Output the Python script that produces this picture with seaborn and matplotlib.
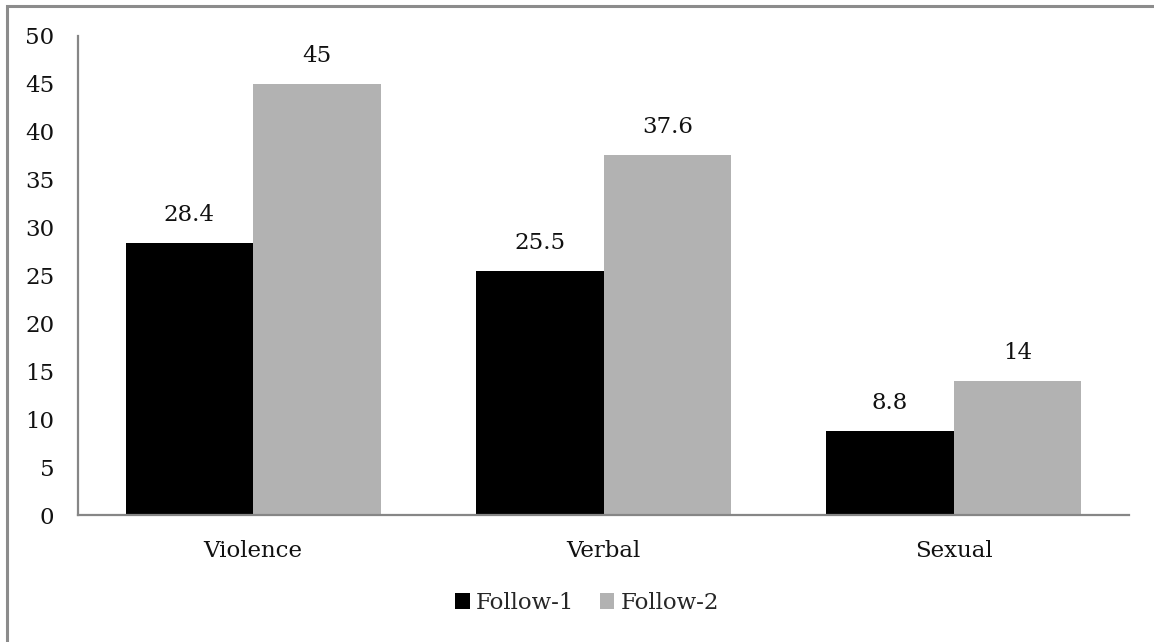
import matplotlib
matplotlib.use("Agg")
import matplotlib.pyplot as plt
from matplotlib.patches import Rectangle, Patch
import seaborn as sns
import pandas as pd

categories = ["Violence", "Verbal", "Sexual"]
series_names = ["Follow-1", "Follow-2"]
follow1 = [28.4, 25.5, 8.8]
follow2 = [45, 37.6, 14]
y_ticks = [0, 5, 10, 15, 20, 25, 30, 35, 40, 45, 50]

colors = {"Follow-1": "#000000", "Follow-2": "#b2b2b2"}

df = pd.DataFrame({
    "category": categories * 2,
    "series": [series_names[0]] * len(categories) + [series_names[1]] * len(categories),
    "value": follow1 + follow2,
})

sns.set_theme(style="white")
plt.rcParams["font.family"] = ["DejaVu Serif"]
FS = 16.5

W, H = 1154, 642
fig = plt.figure(figsize=(W / 100, H / 100), dpi=100)
fig.patch.set_facecolor("white")

# chart frame (extends past the right/bottom edges)
fig.add_artist(Rectangle((7 / W, -0.1), 1.2, 1 - 6 / H + 0.1, transform=fig.transFigure,
                         fill=False, edgecolor="#8c8c8c", linewidth=2.2))

ax = fig.add_axes([78 / W, (H - 515) / H, (1129 - 78) / W, (515 - 36) / H])
sns.barplot(data=df, x="category", y="value", hue="series", order=categories,
            hue_order=series_names, palette=colors, width=0.728, saturation=1,
            linewidth=0, ax=ax, legend=False)

ax.set_xlim(-0.5, 2.5)
ax.set_ylim(0, 50)
ax.set_yticks(y_ticks)
ax.set_yticklabels([str(t) for t in y_ticks], fontsize=FS, color="#111111")
ax.tick_params(axis="y", length=0, pad=17)
ax.tick_params(axis="x", length=0, pad=18, labelsize=FS, labelcolor="#111111")
ax.set_xlabel("")
ax.set_ylabel("")
for side in ["top", "right"]:
    ax.spines[side].set_visible(False)
for side in ["left", "bottom"]:
    ax.spines[side].set_color("#868686")
    ax.spines[side].set_linewidth(1.6)

for cont in ax.containers:
    ax.bar_label(cont, labels=[f"{v:g}" for v in cont.datavalues], padding=12,
                 fontsize=FS, color="#111111")

handles = [Patch(facecolor=colors[s], edgecolor="none", label=s) for s in series_names]
fig.legend(handles=handles, loc="center", bbox_to_anchor=(587 / W, 1 - 603 / H),
           ncol=2, frameon=False, fontsize=FS, handlelength=0.65, handleheight=0.65,
           handletextpad=0.28, columnspacing=1.1, borderpad=0)

fig.savefig("out.png", dpi=100)
